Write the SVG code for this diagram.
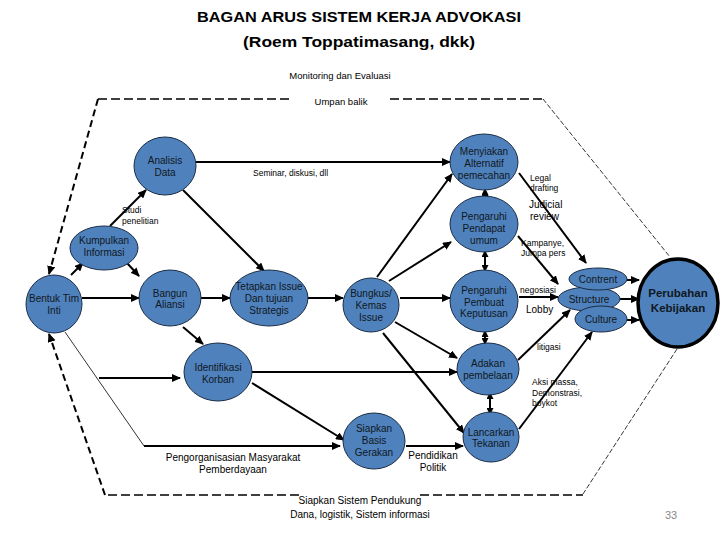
<svg xmlns="http://www.w3.org/2000/svg" width="720" height="540" viewBox="0 0 720 540">
<defs>
<marker id="ah" markerUnits="userSpaceOnUse" markerWidth="9" markerHeight="8" refX="8" refY="4" orient="auto-start-reverse" viewBox="0 0 9 8">
<path d="M0,0 L9,4 L0,8 z" fill="#000"/>
</marker>
<marker id="ahs" markerUnits="userSpaceOnUse" markerWidth="7" markerHeight="7" refX="6" refY="3.5" orient="auto-start-reverse" viewBox="0 0 7 7">
<path d="M0,0 L7,3.5 L0,7 z" fill="#000"/>
</marker>
<style>
.n{fill:#4F81BD;stroke:#1A2C45;stroke-width:1}
.t{font-family:"Liberation Sans",Arial,sans-serif;font-size:10px;fill:#101820;text-anchor:middle}
.pk{font-family:"Liberation Sans",Arial,sans-serif;font-size:11.5px;font-weight:bold;fill:#101820;text-anchor:middle}
.s{font-family:"Liberation Sans",Arial,sans-serif;font-size:8.5px;fill:#000}
.m{font-family:"Liberation Sans",Arial,sans-serif;font-size:10px;fill:#000}
.m9{font-family:"Liberation Sans",Arial,sans-serif;font-size:9.5px;fill:#000;text-anchor:middle}
.c{stroke:#000;stroke-width:2;fill:none;marker-end:url(#ah)}
.d{stroke:#000;stroke-width:2;fill:none;marker-start:url(#ahs);marker-end:url(#ahs)}
.b1{stroke:#000;stroke-width:1.5;fill:none;stroke-dasharray:9 4}
.b2{stroke:#000;stroke-width:2;fill:none;stroke-dasharray:7 4;marker-end:url(#ah)}
.b3{stroke:#000;stroke-width:0.8;fill:none;stroke-dasharray:5 2}
</style>
</defs>
<rect width="720" height="540" fill="#fff"/>
<g id="title">
<text x="359" y="22" font-family="'Liberation Sans',Arial,sans-serif" font-weight="bold" font-size="15" text-anchor="middle" textLength="324" lengthAdjust="spacingAndGlyphs">BAGAN ARUS SISTEM KERJA ADVOKASI</text>
<text x="359" y="47" font-family="'Liberation Sans',Arial,sans-serif" font-weight="bold" font-size="15" text-anchor="middle" textLength="232" lengthAdjust="spacingAndGlyphs">(Roem Toppatimasang, dkk)</text>
</g>
<g id="boundary">
<line class="b1" x1="98" y1="99" x2="293" y2="99"/>
<line class="b1" x1="390" y1="99" x2="543" y2="99"/>
<line class="b3" x1="543" y1="99" x2="670" y2="257"/>
<line class="b3" x1="677" y1="349" x2="583" y2="494"/>
<line class="b1" x1="420" y1="495" x2="583" y2="495"/>
<line class="b1" x1="108" y1="495" x2="303" y2="495"/>
<line class="b2" x1="98" y1="99" x2="49" y2="274"/>
<line class="b2" x1="105" y1="495" x2="49" y2="334"/>
<text class="m9" x="340" y="78.5">Monitoring dan Evaluasi</text>
<text class="m9" x="341" y="104.5">Umpan balik</text>
<text class="m" x="360" y="503.5" text-anchor="middle">Siapkan Sistem Pendukung</text>
<text class="m" x="360" y="517.5" text-anchor="middle">Dana, logistik, Sistem informasi</text>
</g>
<g id="connectors">
<line class="c" x1="71" y1="275" x2="83" y2="263"/>
<line class="c" x1="110" y1="226" x2="146" y2="190"/>
<line class="c" x1="127" y1="263" x2="139" y2="276"/>
<line class="c" x1="82" y1="298" x2="139" y2="298"/>
<line class="c" x1="183" y1="190" x2="264" y2="271"/>
<line class="c" x1="196" y1="162" x2="450" y2="162"/>
<line class="c" x1="201" y1="298" x2="230" y2="298"/>
<line class="c" x1="307" y1="298" x2="343" y2="298"/>
<line class="c" x1="377" y1="277" x2="452" y2="174"/>
<line class="c" x1="389" y1="281" x2="451" y2="242"/>
<line class="c" x1="400" y1="298" x2="450" y2="298"/>
<line class="c" x1="395" y1="322" x2="457" y2="358"/>
<line class="c" x1="383" y1="333" x2="464" y2="433"/>
<line class="c" x1="252" y1="372" x2="457" y2="372"/>
<line class="c" x1="252" y1="383" x2="344" y2="440"/>
<line class="c" x1="183" y1="327" x2="203" y2="344"/>
<line x1="65" y1="332" x2="144" y2="446" stroke="#000" stroke-width="0.8"/>
<line class="c" x1="144" y1="446" x2="340" y2="446"/>
<line class="c" x1="99" y1="378" x2="180" y2="378"/>
<line class="c" x1="406" y1="446" x2="463" y2="446"/>
<line class="d" x1="485" y1="189" x2="485" y2="201"/>
<line class="d" x1="485" y1="251" x2="485" y2="271"/>
<line class="d" x1="485" y1="331" x2="485" y2="344"/>
<line class="d" x1="490" y1="393" x2="490" y2="414"/>
<line class="c" x1="519" y1="173" x2="586" y2="263"/>
<line class="c" x1="518" y1="236" x2="558" y2="284"/>
<line class="c" x1="519" y1="297" x2="558" y2="297"/>
<line class="c" x1="518" y1="360" x2="570" y2="310"/>
<line class="c" x1="519" y1="429" x2="592" y2="332"/>
<line class="c" x1="627" y1="280" x2="639" y2="280"/>
<line class="c" x1="620" y1="299" x2="639" y2="299"/>
<line class="c" x1="627" y1="320" x2="639" y2="320"/>
<text class="s" x="122" y="213">Studi</text>
<text class="s" x="122" y="224">penelitian</text>
<text class="s" x="253" y="176">Seminar, diskusi, dll</text>
<text class="s" x="530" y="181">Legal</text>
<text class="s" x="530" y="191">drafting</text>
<text class="m" x="529" y="208">Judicial</text>
<text class="m" x="530" y="220">review</text>
<text class="s" x="521" y="246">Kampanye,</text>
<text class="s" x="521" y="256">Jumpa pers</text>
<text class="s" x="520" y="293">negosiasi</text>
<text class="m" x="526" y="313">Lobby</text>
<text class="s" x="537" y="350">litigasi</text>
<text class="s" x="532" y="385">Aksi massa,</text>
<text class="s" x="532" y="396">Demonstrasi,</text>
<text class="s" x="532" y="406">boykot</text>
<text class="m" x="233" y="460.5" text-anchor="middle">Pengorganisasian Masyarakat</text>
<text class="m" x="233" y="472.5" text-anchor="middle">Pemberdayaan</text>
<text class="m" x="433" y="458.5" text-anchor="middle">Pendidikan</text>
<text class="m" x="433" y="470.5" text-anchor="middle">Politik</text>
</g>
<g id="analisis-data"><ellipse class="n" cx="165" cy="166" rx="31" ry="29"/><text class="t" x="165" y="163.5">Analisis</text><text class="t" x="165" y="175.5">Data</text></g>
<g id="kumpulkan-informasi"><ellipse class="n" cx="104" cy="248" rx="34" ry="22"/><text class="t" x="104" y="243.5">Kumpulkan</text><text class="t" x="104" y="256">Informasi</text></g>
<g id="bentuk-tim-inti"><ellipse class="n" cx="54" cy="304" rx="28" ry="29"/><text class="t" x="54" y="301.5">Bentuk Tim</text><text class="t" x="54" y="313.5">Inti</text></g>
<g id="bangun-aliansi"><ellipse class="n" cx="170" cy="298" rx="31" ry="28"/><text class="t" x="170" y="296.5">Bangun</text><text class="t" x="170" y="308">Aliansi</text></g>
<g id="tetapkan-issue"><ellipse class="n" cx="269" cy="298" rx="39" ry="28"/><text class="t" x="269" y="289.5">Tetapkan Issue</text><text class="t" x="269" y="301.5">Dan tujuan</text><text class="t" x="269" y="314">Strategis</text></g>
<g id="bungkus-issue"><ellipse class="n" cx="371" cy="305" rx="28" ry="27"/><text class="t" x="371" y="296.5">Bungkus/</text><text class="t" x="371" y="308.5">Kemas</text><text class="t" x="371" y="320.5">Issue</text></g>
<g id="menyiakan-alternatif"><ellipse class="n" cx="484" cy="162" rx="34" ry="28"/><text class="t" x="484" y="154.5">Menyiakan</text><text class="t" x="484" y="166.5">Alternatif</text><text class="t" x="484" y="178.5">pemecahan</text></g>
<g id="pengaruhi-pendapat"><ellipse class="n" cx="484" cy="224" rx="34" ry="28"/><text class="t" x="484" y="219.5">Pengaruhi</text><text class="t" x="484" y="231.5">Pendapat</text><text class="t" x="484" y="243.5">umum</text></g>
<g id="pengaruhi-pembuat"><ellipse class="n" cx="484" cy="301" rx="34" ry="31"/><text class="t" x="484" y="293.5">Pengaruhi</text><text class="t" x="484" y="305.5">Pembuat</text><text class="t" x="484" y="317">Keputusan</text></g>
<g id="identifikasi-korban"><ellipse class="n" cx="218" cy="372" rx="34" ry="29"/><text class="t" x="218" y="370.5">Identifikasi</text><text class="t" x="218" y="382.5">Korban</text></g>
<g id="adakan-pembelaan"><ellipse class="n" cx="488" cy="369" rx="31" ry="26"/><text class="t" x="488" y="366.5">Adakan</text><text class="t" x="488" y="378.5">pembelaan</text></g>
<g id="lancarkan-tekanan"><ellipse class="n" cx="491" cy="437" rx="28" ry="25"/><text class="t" x="491" y="435.5">Lancarkan</text><text class="t" x="491" y="446.5">Tekanan</text></g>
<g id="siapkan-basis"><ellipse class="n" cx="374" cy="441" rx="31" ry="28"/><text class="t" x="374" y="431.5">Siapkan</text><text class="t" x="374" y="444">Basis</text><text class="t" x="374" y="455.5">Gerakan</text></g>
<g id="structure"><ellipse class="n" cx="589" cy="299" rx="31" ry="12"/><text class="t" x="589" y="302.5">Structure</text></g>
<g id="contrent"><ellipse class="n" cx="598" cy="279" rx="29" ry="11"/><text class="t" x="598" y="282.5">Contrent</text></g>
<g id="culture"><ellipse class="n" cx="601" cy="319" rx="26" ry="13"/><text class="t" x="601" y="322.5">Culture</text></g>
<g id="perubahan-kebijakan"><ellipse cx="678" cy="303" rx="40" ry="44" fill="#4F81BD" stroke="#000" stroke-width="3.5"/><text class="pk" x="678" y="297">Perubahan</text><text class="pk" x="678" y="311.5">Kebijakan</text></g>
<text x="671" y="519" font-family="'Liberation Sans',Arial,sans-serif" font-size="11" fill="#888" text-anchor="middle">33</text>
</svg>
